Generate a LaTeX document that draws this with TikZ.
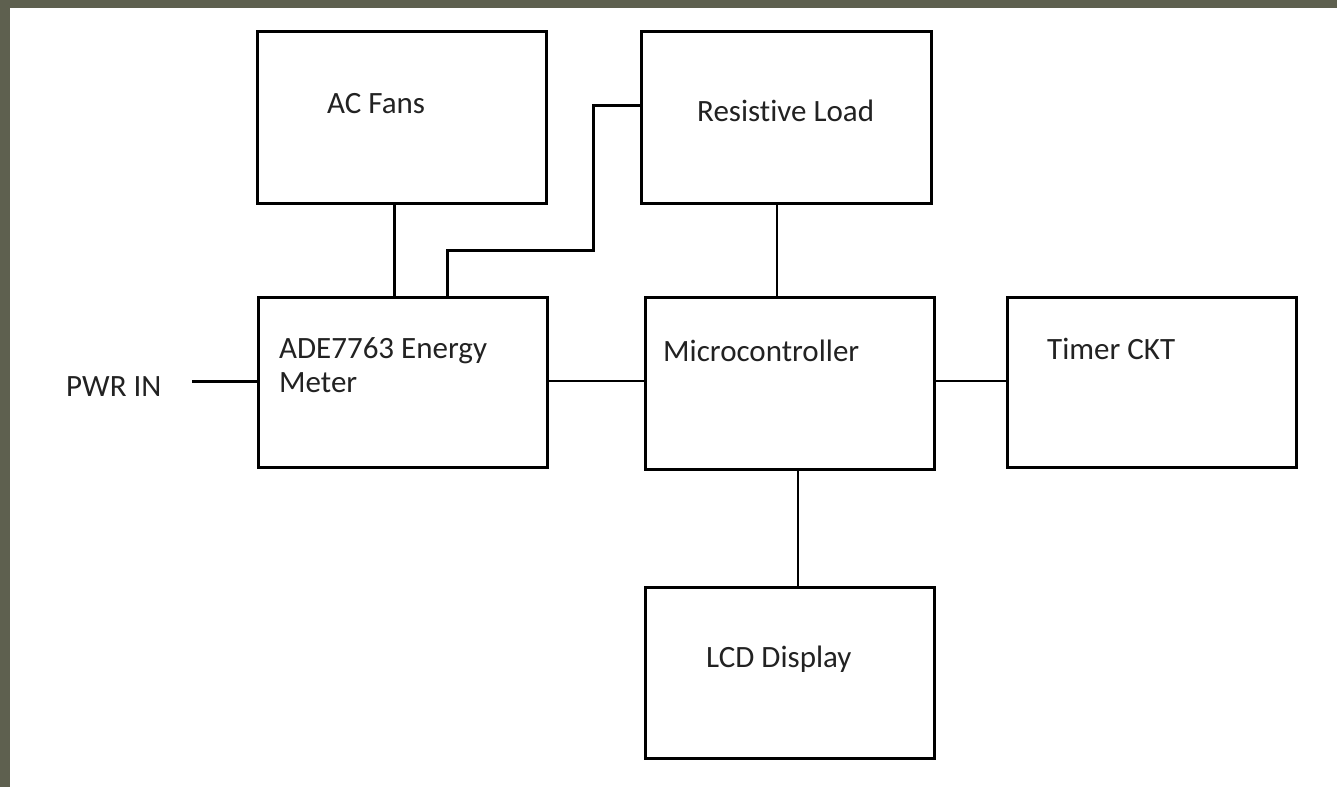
\documentclass[tikz,border=0pt]{standalone}
\usepackage{fontspec}
\setmainfont{Carlito}[Ligatures=NoCommon]
\definecolor{frameol}{HTML}{5E604F}
\definecolor{txt}{HTML}{222222}
\tikzset{
  blk/.style={draw=black, line width=3pt, fill=white},
  heavy/.style={draw=black, line width=3pt},
  light/.style={draw=black, line width=1.4pt},
  lbl/.style={anchor=base west, inner sep=0pt, text=txt, font=\fontsize{31}{35}\selectfont, align=left}
}
\begin{document}
\begin{tikzpicture}[x=1pt,y=-1pt]
\useasboundingbox (0,0) rectangle (1337,787);
\fill[frameol] (0,0) rectangle (1337,787);
\fill[white] (10,7.5) rectangle (1337,787);
% boxes
\node[blk, minimum width=289pt, minimum height=172pt, inner sep=0pt] (fans) at (401.5,117) {};
\node[blk, minimum width=290pt, minimum height=172pt, inner sep=0pt] (load) at (786,117) {};
\node[blk, minimum width=289pt, minimum height=170pt, inner sep=0pt] (ade) at (402.5,382) {};
\node[blk, minimum width=289pt, minimum height=172pt, inner sep=0pt] (mcu) at (789.5,383) {};
\node[blk, minimum width=289pt, minimum height=170pt, inner sep=0pt] (timer) at (1151.5,382) {};
\node[blk, minimum width=289pt, minimum height=171pt, inner sep=0pt] (lcd) at (789.5,672.5) {};
% labels
\node[lbl] (tfans) at (327,113) {AC Fans};
\node[lbl] (tload) at (697,121) {Resistive Load};
\node[lbl] (tade) at (279,392) {ADE7763 Energy\\[-1pt]Meter};
\node[lbl] (tmcu) at (663,361) {Microcontroller};
\node[lbl] (ttimer) at (1047,359) {Timer CKT};
\node[lbl] (tlcd) at (706,667) {LCD Display};
\node[lbl] (tpwr) at (66,396) {PWR IN};
\coordinate (pwrend) at (192,381);
% connectors
\draw[heavy] (pwrend) -- (pwrend -| ade.west);
\draw[heavy] (ade.north -| 394,0) -- (fans.south -| 394,0);
\draw[heavy] (ade.north -| 447,0) |- (593,250) |- (load.west |- 0,105);
\draw[light] (load.south -| 777,0) -- (mcu.north -| 777,0);
\draw[light] (ade.east |- 0,381) -- (mcu.west |- 0,381);
\draw[light] (mcu.east |- 0,381) -- (timer.west |- 0,381);
\draw[light] (mcu.south -| 798,0) -- (lcd.north -| 798,0);
\end{tikzpicture}
\end{document}
